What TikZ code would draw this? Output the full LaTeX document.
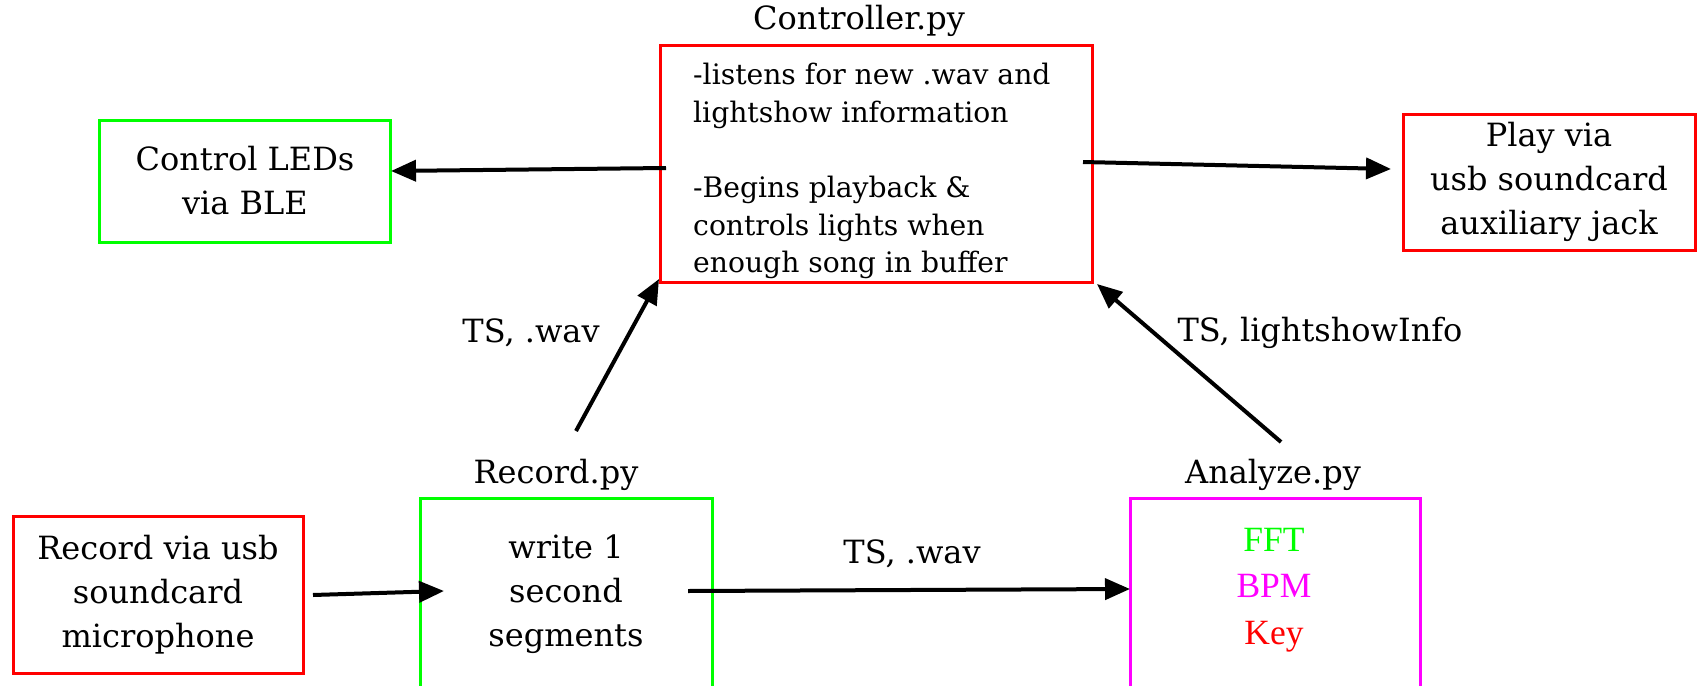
\documentclass[tikz,border=0pt]{standalone}
\usepackage{fontspec}
\setmainfont{DejaVu Serif}
\newfontfamily\timesf{Liberation Serif}
\usetikzlibrary{arrows.meta}
\definecolor{cred}{RGB}{255,0,0}
\definecolor{cgreen}{RGB}{0,255,0}
\definecolor{cmag}{RGB}{255,0,255}
\tikzset{
  every node/.style={font=\fontsize{32}{44}\selectfont, inner sep=0pt},
  box/.style={draw, line width=3pt, rectangle},
  redbox/.style={box, draw=cred},
  greenbox/.style={box, draw=cgreen},
  magbox/.style={box, draw=cmag},
  conn/.style={line width=4pt, -{Triangle[length=25pt,width=21pt]}},
  lbl/.style={anchor=center},
}
\begin{document}
\begin{tikzpicture}[x=1pt,y=-1pt]
\useasboundingbox (0,0) rectangle (1699,685);
\clip (0,0) rectangle (1699,685);
\fill[white] (0,0) rectangle (1699,685);

% boxes
\node[redbox, minimum width=432pt, minimum height=236pt] (ctrl) at (876,164) {};
\node[anchor=north west, align=left, font=\fontsize{28.2}{37.5}\selectfont] (ctrltxt) at (693,63)
  {-listens for new .wav and\\lightshow information\\[38pt]-Begins playback \&\\controls lights when\\enough song in buffer};
\node[lbl] (ctrllbl) at (859,21) {Controller.py};

\node[greenbox, minimum width=291pt, minimum height=122pt, align=center] (leds) at (245,181) {Control LEDs\\via BLE};
\node[redbox, minimum width=292pt, minimum height=136pt, align=center] (play) at (1549,182) {Play via\\usb soundcard\\auxiliary jack};
\node[redbox, minimum width=290pt, minimum height=157pt, align=center] (recusb) at (158,595) {Record via usb\\soundcard\\microphone};

\node[greenbox, minimum width=292pt, minimum height=210pt] (rec) at (566,603) {};
\node[align=center] (rectxt) at (566,594) {write 1\\second\\segments};
\node[lbl] (reclbl) at (556,475) {Record.py};

\node[magbox, minimum width=290pt, minimum height=210pt] (ana) at (1275,603) {};
\node[align=center, font=\timesf\fontsize{35.5}{46.5}\selectfont] (anatxt) at (1274,590)
  {\textcolor{cgreen}{FFT}\\\textcolor{cmag}{BPM}\\\textcolor{cred}{Key}};
\node[lbl] (analbl) at (1273,475) {Analyze.py};

% connector ends
\coordinate (c1s) at (666,168);   \coordinate (c1e) at (391,171);
\coordinate (c2s) at (1083,162);  \coordinate (c2e) at (1391,169);
\coordinate (c3s) at (576,431);   \coordinate (c3e) at (659,279);
\coordinate (c4s) at (1281,442);  \coordinate (c4e) at (1097,284);
\coordinate (c5s) at (313,595);   \coordinate (c5e) at (444,591);
\coordinate (c6s) at (688,591);   \coordinate (c6e) at (1130,589);

\draw[conn] (c1s) -- (c1e);
\draw[conn] (c2s) -- (c2e);
\draw[conn] (c3s) -- (c3e);
\draw[conn] (c4s) -- (c4e);
\draw[conn] (c5s) -- (c5e);
\draw[conn] (c6s) -- (c6e);

\node[lbl] (l1) at (531,333) {TS, .wav};
\node[lbl] (l2) at (1320,333) {TS, lightshowInfo};
\node[lbl] (l3) at (912,554) {TS, .wav};
\end{tikzpicture}
\end{document}
